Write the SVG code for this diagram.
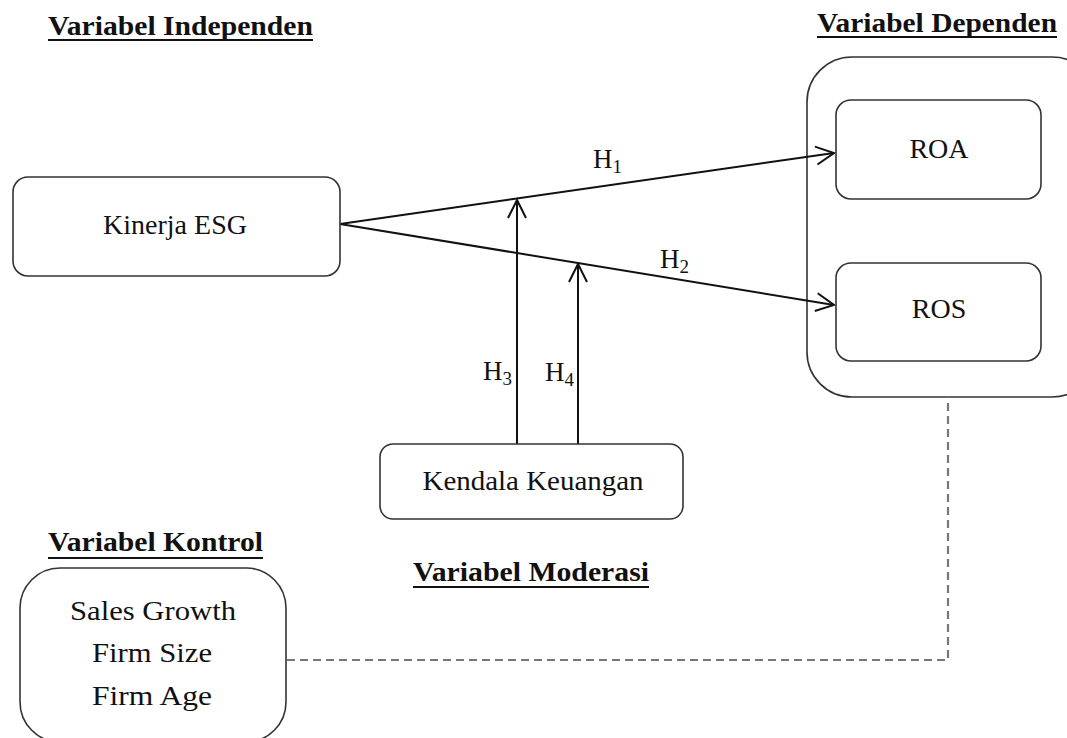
<svg xmlns="http://www.w3.org/2000/svg" width="1067" height="738" viewBox="0 0 1067 738">
<style>
.box{fill:#fff;stroke:#333;stroke-width:1.6}
.lbl{font-family:"Liberation Serif","Times New Roman",serif;font-size:28px;fill:#111;text-anchor:middle}
.ttl{font-family:"Liberation Serif","Times New Roman",serif;font-size:28px;font-weight:bold;fill:#111}
.ul{stroke:#111;stroke-width:2.2}
.h{font-family:"Liberation Serif","Times New Roman",serif;font-size:27px;fill:#111}
.sub{font-size:19px}
.edge{stroke:#111;stroke-width:2;fill:none}
.dash{stroke:#777;stroke-width:2.2;fill:none;stroke-dasharray:8 5}
</style>
<defs>
<marker id="arr" markerUnits="userSpaceOnUse" markerWidth="24" markerHeight="24" viewBox="-20 -12 24 24" refX="0" refY="0" orient="auto">
<path d="M-18,-9 L0,0 L-18,9" fill="none" stroke="#111" stroke-width="2"/>
</marker>
</defs>
<rect width="1067" height="738" fill="#fff"/>
<g id="titles">
<text class="ttl" x="48" y="35" textLength="265" lengthAdjust="spacingAndGlyphs">Variabel Independen</text>
<line class="ul" x1="48" y1="40" x2="313" y2="40"/>
<text class="ttl" x="817" y="32" textLength="240" lengthAdjust="spacingAndGlyphs">Variabel Dependen</text>
<line class="ul" x1="817" y1="37" x2="1057" y2="37"/>
<text class="ttl" x="48" y="551" textLength="215" lengthAdjust="spacingAndGlyphs">Variabel Kontrol</text>
<line class="ul" x1="48" y1="558" x2="263" y2="558"/>
<text class="ttl" x="413" y="581" textLength="236" lengthAdjust="spacingAndGlyphs">Variabel Moderasi</text>
<line class="ul" x1="413" y1="587" x2="649" y2="587"/>
</g>
<g id="dependen-group">
<rect class="box" x="807" y="57" width="290" height="340" rx="45"/>
</g>
<g id="connectors">
<line class="edge" x1="340" y1="224" x2="834" y2="153" marker-end="url(#arr)"/>
<line class="edge" x1="340" y1="224" x2="834" y2="305" marker-end="url(#arr)"/>
<line class="edge" x1="517" y1="444" x2="517" y2="200" marker-end="url(#arr)"/>
<line class="edge" x1="578" y1="444" x2="578" y2="264" marker-end="url(#arr)"/>
<path class="dash" d="M287,660 H948 V397"/>
<text class="h" x="593" y="168">H<tspan class="sub" dy="5">1</tspan></text>
<text class="h" x="660" y="268">H<tspan class="sub" dy="5">2</tspan></text>
<text class="h" x="483" y="380">H<tspan class="sub" dy="5">3</tspan></text>
<text class="h" x="545" y="381">H<tspan class="sub" dy="5">4</tspan></text>
</g>
<g id="kinerja-esg">
<rect class="box" x="13" y="177" width="327" height="99" rx="15"/>
<text class="lbl" x="175" y="234">Kinerja ESG</text>
</g>
<g id="roa">
<rect class="box" x="836" y="100" width="205" height="99" rx="15"/>
<text class="lbl" x="939" y="158">ROA</text>
</g>
<g id="ros">
<rect class="box" x="836" y="263" width="205" height="98" rx="15"/>
<text class="lbl" x="939" y="318">ROS</text>
</g>
<g id="kendala-keuangan">
<rect class="box" x="380" y="444" width="303" height="75" rx="13"/>
<text class="lbl" x="533" y="490" textLength="221" lengthAdjust="spacingAndGlyphs">Kendala Keuangan</text>
</g>
<g id="kontrol">
<rect class="box" x="20" y="568" width="266" height="174" rx="40"/>
<text class="lbl" x="153" y="620" textLength="166" lengthAdjust="spacingAndGlyphs">Sales Growth</text>
<text class="lbl" x="152" y="662" textLength="120" lengthAdjust="spacingAndGlyphs">Firm Size</text>
<text class="lbl" x="152" y="705" textLength="120" lengthAdjust="spacingAndGlyphs">Firm Age</text>
</g>
</svg>
